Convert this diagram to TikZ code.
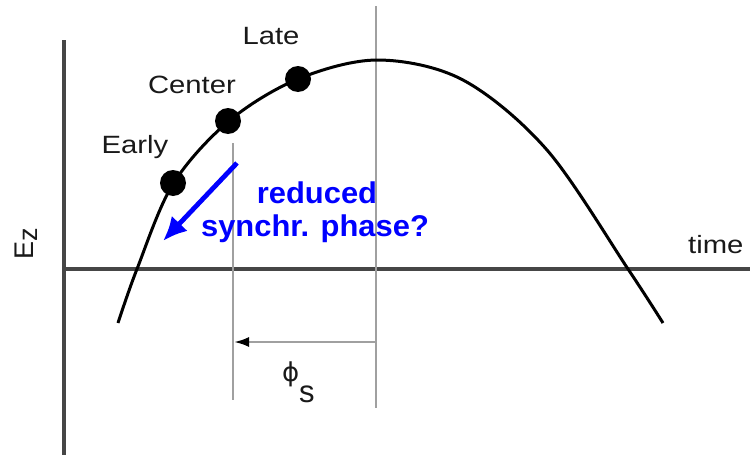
\documentclass[tikz,border=0pt]{standalone}
\usepackage{fontspec}
\setmainfont{Liberation Sans}
\newfontfamily\symfont{DejaVu Sans}
\usetikzlibrary{arrows.meta}
\newcommand\myWide[2][1.17]{\scalebox{#1}[1]{#2}}
\definecolor{axisgray}{RGB}{70,70,70}
\definecolor{guidegray}{RGB}{160,160,160}
\definecolor{txtblack}{RGB}{25,25,25}
\definecolor{pureblue}{RGB}{0,0,255}
\begin{document}
\begin{tikzpicture}[x=1pt,y=-1pt,
  axisline/.style={draw=axisgray,line width=3.2pt},
  guide/.style={draw=guidegray,line width=2.6pt},
  wave/.style={draw=black,line width=3pt,line join=round},
  dot/.style={circle,fill=black,inner sep=0pt,minimum size=26pt},
  lbl/.style={font=\fontsize{25}{29}\selectfont,text=txtblack,inner sep=0pt},
  bluelbl/.style={font=\bfseries\fontsize{30}{34}\selectfont,text=pureblue,inner sep=0pt},
  bluearrow/.style={draw=pureblue,line width=4.8pt,-{Latex[length=24pt,width=22pt]}},
  phiarrow/.style={draw=guidegray,line width=2.4pt,-{Latex[color=black,length=15pt,width=10pt]}}
]
\useasboundingbox (0,0) rectangle (750,455);
% axes
\coordinate (yTop) at (64,40);
\coordinate (yBot) at (64,455);
\coordinate (xLeft) at (64,269);
\coordinate (xRight) at (750,269);
\draw[axisline] (yTop) -- (yBot);
\draw[axisline] (xLeft) -- (xRight);
% guide lines
\coordinate (cTop) at (233,143);
\coordinate (cBot) at (233,400);
\coordinate (sTop) at (376,6);
\coordinate (sBot) at (376,408);
\draw[guide] (cTop) -- (cBot);
\draw[guide] (sTop) -- (sBot);
% phase arrow
\coordinate (aR) at (376,342);
\coordinate (aL) at (234,342);
\draw[phiarrow] (aR) -- (aL);
% RF wave
\draw[wave] plot[smooth,tension=0.55] coordinates {
 (118,323) (137,269) (173,184) (229,121) (298,79)
 (378,60) (463,80) (547,150) (628,269) (663,323)};
% bunch dots
\node[dot] (early) at (173,183) {};
\node[dot] (center) at (228,121) {};
\node[dot] (late) at (298,79) {};
% labels
\node[lbl,anchor=base] (lateL) at (271,44) {\myWide{Late}};
\node[lbl,anchor=base] (centerL) at (192,93) {\myWide{Center}};
\node[lbl,anchor=base] (earlyL) at (135,153) {\myWide{Early}};
\node[lbl,anchor=base west] (timeL) at (688,253) {\myWide{time}};
\node[lbl,anchor=base,rotate=90,font=\fontsize{27}{30}\selectfont] (ezL) at (33,244) {E\raisebox{-0.3ex}{z}};
\node[lbl,anchor=base west,font=\symfont\fontsize{26}{30}\selectfont] (phiL) at (282,381) {ϕ};
\node[lbl,anchor=base west,font=\fontsize{31}{36}\selectfont] (sL) at (299,402) {s};
% blue annotation
\node[bluelbl,anchor=base] (red1) at (317,203) {\myWide[1.03]{reduced}};
\node[bluelbl,anchor=base] (red2) at (315,236) {\myWide[1.03]{synchr. phase?}};
\coordinate (bStart) at (237,163);
\coordinate (bEnd) at (163,241);
\draw[bluearrow] (bStart) -- (bEnd);
\end{tikzpicture}
\end{document}
